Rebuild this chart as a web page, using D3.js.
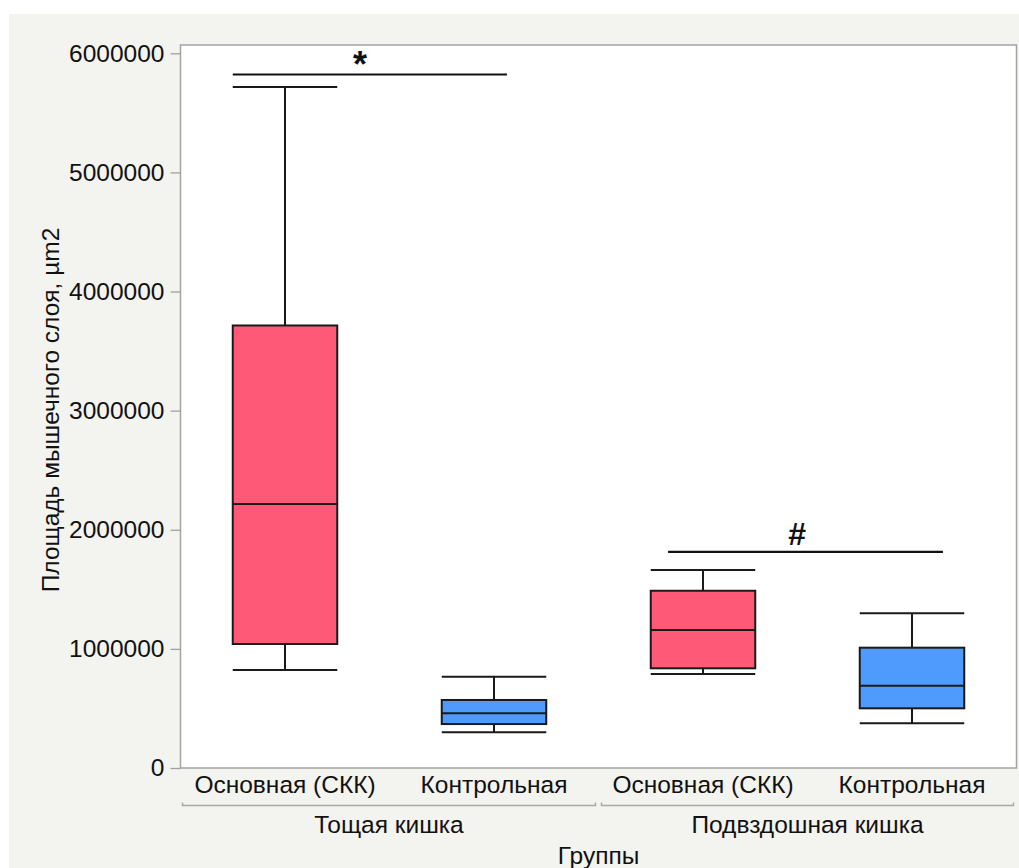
<!DOCTYPE html>
<html>
<head>
<meta charset="utf-8">
<script src="https://cdn.jsdelivr.net/npm/d3@7"></script>
<style>
  html, body { margin: 0; padding: 0; background: #ffffff; }
  svg { display: block; }
  text { font-family: "Liberation Sans", Arial, Helvetica, sans-serif; fill: #111; }
</style>
</head>
<body>
<svg id="chart" width="1019" height="868"></svg>
<script>
// Categories: two intestine segments, each with main (SKK) and control group
const categories = ["Тощая|Основная (СКК)", "Тощая|Контрольная", "Подвздошная|Основная (СКК)", "Подвздошная|Контрольная"];
const categoryLabels = ["Основная (СКК)", "Контрольная", "Основная (СКК)", "Контрольная"];
const groupNames = ["Тощая кишка", "Подвздошная кишка"];
const groupMembers = [[0, 1], [2, 3]];
const boxKind = ["main", "control", "main", "control"];

// Box statistics (µm2)
const whiskerLow = [823000, 300000, 789000, 375000];
const q1 = [1041000, 369000, 837000, 501000];
const median = [2216000, 459000, 1158000, 691000];
const q3 = [3715000, 571000, 1488000, 1010000];
const whiskerHigh = [5717000, 766000, 1662000, 1299000];

// Y axis ticks
const yTicks = [0, 1000000, 2000000, 3000000, 4000000, 5000000, 6000000];

// Significance bars: level in data units, span in category-index units
const sigLevel = [5822000, 1815000];
const sigFrom = [-0.25, 1.833];
const sigTo = [1.062, 3.148];
const sigMarkAt = [0.359, 2.45];
const sigMark = ["*", "#"];

const colors = { main: "#fe5a77", control: "#4f9bfd" };
const FONT = "24.5px";

const svg = d3.select("#chart");
const W = 1019, H = 868;
const plot = { left: 180.5, right: 1016.5, top: 45, bottom: 768 };

// Panel background
svg.append("rect").attr("x", 9).attr("y", 14).attr("width", W - 9).attr("height", H - 14)
  .attr("fill", "#f3f3ef");

// Plot frame fill
svg.append("rect").attr("x", plot.left).attr("y", plot.top)
  .attr("width", plot.right - plot.left).attr("height", plot.bottom - plot.top)
  .attr("fill", "#ffffff");

const x = d3.scaleBand().domain(categories).range([plot.left, plot.right])
  .paddingInner(0.5).paddingOuter(0.25);
const step = x.step();
// Continuous position in category-index units (0 = centre of first category)
const c0 = x(categories[0]) + x.bandwidth() / 2;
const xi = d3.scaleLinear().domain([0, 1]).range([c0, c0 + step]);

const y = d3.scaleLinear().domain([0, 6000000]).range([plot.bottom, 53.3]);

// Y axis
const yAxis = svg.append("g").attr("transform", `translate(${plot.left},0)`)
  .call(d3.axisLeft(y).tickValues(yTicks).tickFormat(d3.format("d")).tickSize(10).tickPadding(6));
yAxis.select(".domain").remove();
yAxis.selectAll(".tick line").attr("stroke", "#a0a0a0").attr("stroke-width", 1.3);
yAxis.selectAll(".tick text").style("font-size", FONT).attr("fill", "#111");

// Boxes
const boxes = svg.append("g");
categories.forEach((c, i) => {
  const x0 = x(c), bw = x.bandwidth(), cx = x0 + bw / 2;
  const g = boxes.append("g");
  // whisker stems
  g.append("line").attr("x1", cx).attr("x2", cx).attr("y1", y(whiskerHigh[i])).attr("y2", y(q3[i]))
    .attr("stroke", "#1a1a1a").attr("stroke-width", 2);
  g.append("line").attr("x1", cx).attr("x2", cx).attr("y1", y(q1[i])).attr("y2", y(whiskerLow[i]))
    .attr("stroke", "#1a1a1a").attr("stroke-width", 2);
  // caps
  [whiskerHigh[i], whiskerLow[i]].forEach(v => {
    g.append("line").attr("x1", x0).attr("x2", x0 + bw).attr("y1", y(v)).attr("y2", y(v))
      .attr("stroke", "#1a1a1a").attr("stroke-width", 2);
  });
  // box
  g.append("rect").attr("x", x0).attr("y", y(q3[i])).attr("width", bw).attr("height", y(q1[i]) - y(q3[i]))
    .attr("fill", colors[boxKind[i]]).attr("stroke", "#1a1a1a").attr("stroke-width", 2);
  // median
  g.append("line").attr("x1", x0).attr("x2", x0 + bw).attr("y1", y(median[i])).attr("y2", y(median[i]))
    .attr("stroke", "#1a1a1a").attr("stroke-width", 2);
});

// Significance markers
sigLevel.forEach((lv, i) => {
  const star = sigMark[i] === "*";
  svg.append("line").attr("x1", xi(sigFrom[i])).attr("x2", xi(sigTo[i]))
    .attr("y1", y(lv)).attr("y2", y(lv)).attr("stroke", "#111").attr("stroke-width", 2.2);
  svg.append("text").attr("x", xi(sigMarkAt[i])).attr("y", y(lv) + (star ? 2 : -7))
    .attr("text-anchor", "middle").style("font-size", star ? "36px" : "32px")
    .style("font-weight", "bold").text(sigMark[i]);
});

// Plot frame border
svg.append("rect").attr("x", plot.left).attr("y", plot.top)
  .attr("width", plot.right - plot.left).attr("height", plot.bottom - plot.top)
  .attr("fill", "none").attr("stroke", "#a3a3a3").attr("stroke-width", 1.5);

// X axis category labels
const xAxis = svg.append("g").attr("transform", `translate(0,${plot.bottom})`)
  .call(d3.axisBottom(x).tickSize(0).tickPadding(8).tickFormat((d, i) => categoryLabels[i]));
xAxis.select(".domain").remove();
xAxis.selectAll(".tick text").style("font-size", FONT).attr("fill", "#111");

// Group brackets and names
groupMembers.forEach((m, gi) => {
  const left = x(categories[m[0]]) - step * 0.25 + (gi === 0 ? 2 : 3);
  const right = x(categories[m[m.length - 1]]) + x.bandwidth() + step * 0.25 - 3;
  const by = 805.5;
  svg.append("path").attr("d", `M${left},${by - 3}V${by}H${right}V${by - 3}`)
    .attr("fill", "none").attr("stroke", "#a8a8a8").attr("stroke-width", 1.5);
  svg.append("text").attr("x", (left + right) / 2).attr("y", 833).attr("text-anchor", "middle")
    .style("font-size", FONT).text(groupNames[gi]);
});

// Axis titles
svg.append("text").attr("x", (plot.left + plot.right) / 2).attr("y", 864).attr("text-anchor", "middle")
  .style("font-size", FONT).text("Группы");
svg.append("text").attr("transform", `translate(59,410) rotate(-90)`)
  .attr("text-anchor", "middle").style("font-size", FONT).text("Площадь мышечного слоя, µm2");
</script>
</body>
</html>
